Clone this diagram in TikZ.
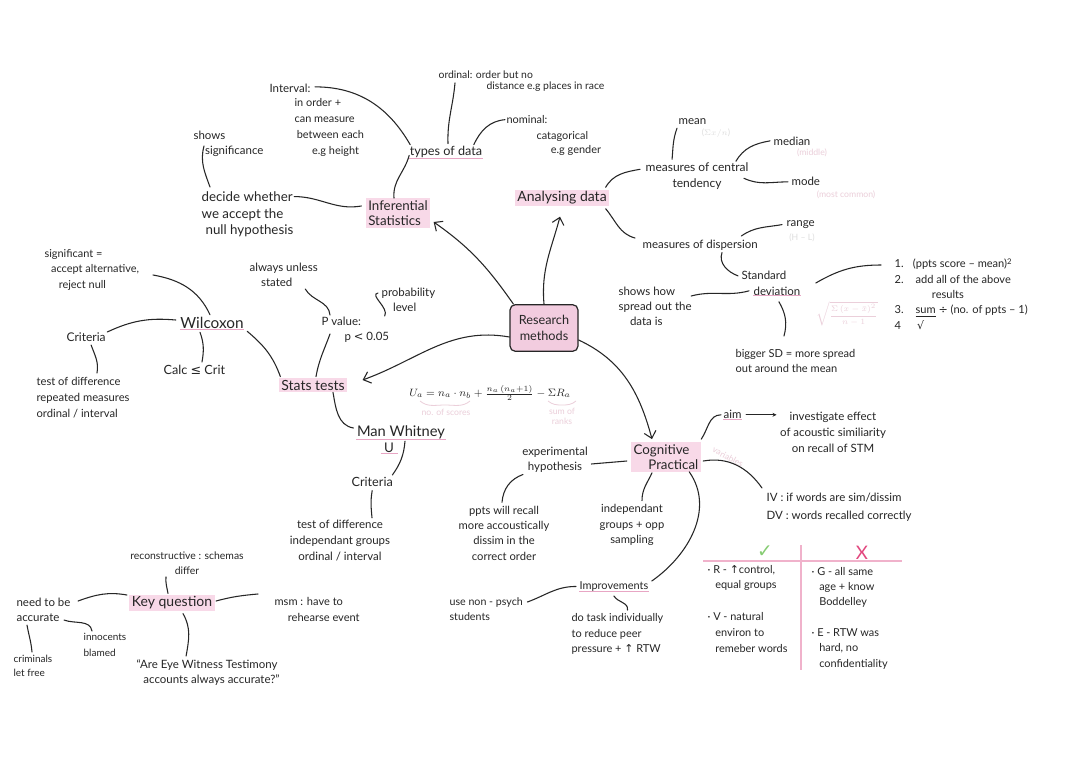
\documentclass[tikz,border=0pt]{standalone}
\usepackage{fontspec}
\setmainfont{Lato}
\newfontfamily\sym{DejaVu Sans}
\usetikzlibrary{arrows.meta,calc}
\definecolor{ink}{HTML}{262626}
\definecolor{hlpink}{HTML}{F8D9E8}
\definecolor{rmfill}{HTML}{F2CCDF}
\definecolor{ulpink}{HTML}{E8A6C4}
\definecolor{faintc}{HTML}{EBCFDA}
\definecolor{faintg}{HTML}{DEDEDE}
\definecolor{okgreen}{HTML}{86CC72}
\definecolor{nored}{HTML}{E2477E}
\definecolor{tblpink}{HTML}{F0B2CB}
\begin{document}
\begin{tikzpicture}[x=0.75pt,y=-0.75pt,
  tx/.style={font=\fontsize{8.6}{11.5}\selectfont, text=ink, inner sep=1pt, align=left, anchor=north west},
  txc/.style={tx, align=center, anchor=center},
  hl/.style={fill=hlpink, text=ink, inner xsep=2pt, inner ysep=1.5pt, align=left, font=\fontsize{10}{11.5}\selectfont},
  ln/.style={draw=ink, line width=0.8pt, line cap=round},
  arr/.style={ln, -{Straight Barb[length=5pt,width=9pt]}},
  ul/.style={draw=ulpink, line width=0.7pt},
  faint/.style={text=faintc, inner sep=0pt, font=\fontsize{6.5}{7.5}\selectfont, align=center},
  tbl/.style={draw=tblpink, line width=0.9pt}]
\fill[white] (0,0) rectangle (1080,763);
\path[use as bounding box] (0,0) rectangle (1080,763);

% centre
\node[draw=ink, line width=0.9pt, fill=rmfill, rounded corners=4pt, minimum width=51pt, minimum height=35pt, align=center, font=\fontsize{9.5}{12}\selectfont, text=ink] (rm) at (544,328) {Research\\methods};

% headings
\node[hl] (inf) at (398,213) {Inferential\\Statistics};
\node[hl, font=\fontsize{10.5}{12}\selectfont] (ana) at (562,198) {Analysing data};
\node[hl, font=\fontsize{10.5}{12}\selectfont] (stats) at (313,385) {Stats tests};
\node[hl] (cog) at (666,457) {Cognitive\\\hspace*{1.1em}Practical};
\node[hl, font=\fontsize{10.5}{12}\selectfont] (key) at (172,603) {Key question};

% inferential statistics branch
\node[tx, anchor=center, font=\fontsize{9.5}{11}\selectfont] (types) at (446,152) {types of data};
\node[tx] (intv) at (268,82) {Interval:};
\node[tx, font=\fontsize{8.2}{12}\selectfont] (intvb) at (293,97) {in order +\\can measure\\\hspace*{0.2em}between each\\\hspace*{1.6em}e.g height};
\node[tx, font=\fontsize{7.8}{9}\selectfont] (ord1) at (437,69) {ordinal: order but no};
\node[tx, font=\fontsize{7.8}{9}\selectfont] (ord2) at (485,80) {distance e.g places in race};
\node[tx, font=\fontsize{8.2}{10}\selectfont] (nom) at (505,114) {nominal:};
\node[tx, font=\fontsize{8.2}{10.5}\selectfont] (nomb) at (535,130) {catagorical\\\hspace*{1.3em}e.g gender};
\node[tx] (shows) at (192,129) {shows\\\hspace*{1em}significance};
\node[tx, font=\fontsize{10}{12.2}\selectfont] (dec1) at (200,190) {decide whether};
\node[tx, font=\fontsize{10}{12.2}\selectfont] (dec2) at (200,207) {we accept the\\\hspace*{0.3em}null hypothesis};

% analysing data branch
\node[txc, font=\fontsize{9}{11.5}\selectfont] (mct) at (697,176) {measures of central\\tendency};
\node[tx] (mean) at (677,117) {mean};
\node[tx] (median) at (772,135) {median};
\node[tx] (mode) at (790,175) {mode};
\node[faint, text=faintg] at (716,133) {($\Sigma x / n$)};
\node[faint] at (812,153) {(middle)};
\node[faint] at (846,195) {(most common)};
\node[tx] (mdisp) at (641,238) {measures of dispersion};
\node[tx] (range) at (785,219) {range};
\node[faint, text=faintg] at (802,238) {(H -- L)};
\node[tx] (sd1) at (740,269) {Standard};
\node[tx] (sd2) at (752,285) {deviation};
\node[tx] (spread) at (617,285) {shows how\\spread out the\\\hspace*{1em}data is};
\node[tx, font=\fontsize{8.3}{11.2}\selectfont] (bigger) at (734,348) {bigger SD = more spread\\out around the mean};
\node[faint, font=\fontsize{6.5}{7.5}\selectfont] at (847,314) {$\sqrt{\displaystyle\frac{\Sigma\,(x-\bar{x})^2}{n-1}}$};
\node[tx, font=\fontsize{8.3}{11.5}\selectfont] (steps) at (893,257) {1.\hspace{7pt}(ppts score -- mean)\textsuperscript{2}\\2.\hspace{9pt}add all of the above\\\hspace{28pt}results\\3.\hspace{9pt}\underline{sum} {\sym ÷} (no. of ppts -- 1)\\4\hspace{12pt}{\sym √}};

% stats tests branch
\node[tx] (alw) at (248,261) {always unless\\\hspace*{1em}stated};
\node[tx] (pval) at (320,315) {P value:\\\hspace*{2em}p {\sym<} 0.05};
\node[tx] (prob) at (380,286) {probability\\\hspace*{1em}level};
\node[tx, anchor=center, font=\fontsize{11.5}{13}\selectfont] (wil) at (212,323) {Wilcoxon};
\node[tx, font=\fontsize{8.2}{11.5}\selectfont] (sig) at (43,248) {significant =\\\hspace*{0.6em}accept alternative,\\\hspace*{1.3em}reject null};
\node[tx, font=\fontsize{9}{11}\selectfont] (crit1) at (65,331) {Criteria};
\node[tx, font=\fontsize{8.4}{12}\selectfont] (tod1) at (35,376) {test of difference\\repeated measures\\ordinal / interval};
\node[tx, font=\fontsize{9.5}{11}\selectfont] (calc) at (162,364) {Calc {\sym ≤} Crit};
\node[tx, anchor=center, font=\fontsize{11}{13}\selectfont] (man) at (401,432) {Man Whitney};
\node[tx, anchor=center, font=\fontsize{10}{12}\selectfont] (manu) at (389,448) {U};
\node[tx, anchor=center, font=\fontsize{8}{10}\selectfont] (formula) at (490,393) {$U_a = n_a \cdot n_b + \frac{n_a\,(n_a+1)}{2} - \Sigma R_a$};
\node[faint] at (446,412) {no. of scores};
\node[faint] at (562,416) {sum of\\ranks};
\node[tx, font=\fontsize{9.5}{11}\selectfont] (crit2) at (350,476) {Criteria};
\node[txc, font=\fontsize{8.6}{12}\selectfont] (tod2) at (340,541) {test of difference\\independant groups\\ordinal / interval};

% cognitive practical branch
\node[txc] (exph) at (555,460) {experimental\\hypothesis};
\node[txc, font=\fontsize{8.4}{11.5}\selectfont] (ppts) at (504,533) {ppts will recall\\more accoustically\\dissim in the\\correct order};
\node[txc, font=\fontsize{8.4}{11.8}\selectfont] (indep) at (632,525) {independant\\groups + opp\\sampling};
\node[tx] (aimn) at (722,409) {aim};
\node[txc, font=\fontsize{8.6}{12}\selectfont] (aimt) at (833,432) {investigate effect\\of acoustic similiarity\\on recall of STM};
\node[tx, font=\fontsize{8.6}{13.5}\selectfont] (ivdv) at (765,491) {IV : if words are sim/dissim\\DV : words recalled correctly};
\node[faint, rotate=-28] at (728,457) {variables};
\node[tx, font=\fontsize{8.2}{10}\selectfont] (improv) at (578,580) {Improvements};
\node[tx, font=\fontsize{8}{11.5}\selectfont] (nonpsych) at (448,596) {use non - psych\\students};
\node[tx, font=\fontsize{8.2}{11.6}\selectfont] (dotask) at (570,612) {do task individually\\to reduce peer\\pressure + {\sym↑} RTW};

% evaluation table
\draw[tbl] (703,561) -- (902,561);
\draw[tbl] (801,545) -- (801,670);
\node[text=okgreen, font=\sym\fontsize{14}{14}\selectfont, inner sep=0pt] (ok) at (765,552) {✓};
\node[text=nored, font=\fontsize{14}{14}\selectfont, inner sep=0pt] (no) at (862,553) {X};
\node[tx, font=\fontsize{8.2}{11.5}\selectfont] (tl1) at (706,564) {· R - {\sym↑}control,\\\hspace*{0.7em}equal groups};
\node[tx, font=\fontsize{8.2}{11.8}\selectfont] (tl2) at (706,611) {· V - natural\\\hspace*{0.7em}environ to\\\hspace*{0.7em}remeber words};
\node[tx, font=\fontsize{8.2}{11.3}\selectfont] (tr1) at (810,566) {· G - all same\\\hspace*{0.7em}age + know\\\hspace*{0.7em}Boddelley};
\node[tx, font=\fontsize{8.2}{11.5}\selectfont] (tr2) at (810,627) {· E - RTW was\\\hspace*{0.7em}hard, no\\\hspace*{0.7em}confidentiality};

% key question branch
\node[txc, font=\fontsize{7.8}{11}\selectfont] (recon) at (187,563) {reconstructive : schemas\\differ};
\node[tx, font=\fontsize{8.3}{11.8}\selectfont] (msm) at (273,596) {msm : have to\\\hspace*{1.2em}rehearse event};
\node[tx] (need) at (15,596) {need to be\\accurate};
\node[tx, font=\fontsize{7.5}{10.5}\selectfont] (crim) at (12,654) {criminals\\let free};
\node[tx, font=\fontsize{7.5}{11.5}\selectfont] (innoc) at (82,632) {innocents\\blamed};
\node[tx] (ewt) at (135,658) {“Are Eye Witness Testimony\\\hspace*{0.6em}accounts always accurate?”};

% underlines
\draw[ul] ($(types.south west)+(1,-1)$) -- ($(types.south east)+(-1,-1)$);
\draw[ul] ($(wil.south west)+(1,-1)$) -- ($(wil.south east)+(-1,-1)$);
\draw[ul] ($(man.south west)+(1,-1)$) -- ($(man.south east)+(-1,-1)$);
\draw[ul] ($(manu.south west)+(-2,-1)$) -- ($(manu.south east)+(2,-1)$);
\draw[ul] ($(sd2.south west)+(1,-1)$) -- ($(sd2.south east)+(-1,-1)$);
\draw[ul] ($(improv.south west)+(1,-1)$) -- ($(improv.south east)+(-1,-1)$);
\draw[ul] ($(aimn.south west)+(1,-1)$) -- ($(aimn.south east)+(-1,-1)$);
\draw[faintc, line width=0.6pt] (420,401) to[out=-40,in=180] (445,405) to[out=0,in=-140] (470,401);
\draw[faintc, line width=0.6pt] (548,401) to[out=-40,in=180] (562,405) to[out=0,in=-140] (576,401);

% main arrows
\draw[arr] ($(rm.north west)+(4,0)$) to[out=125,in=-35] ($(inf.east)+(3,9)$);
\draw[arr] (rm.north) to[out=95,in=-105] ($(ana.south)+(-2,10)$);
\draw[arr] ($(rm.west)+(0,9)$) to[out=170,in=20] ($(stats.east)+(15,-5)$);
\draw[arr] ($(rm.east)+(0,12)$) to[out=-25,in=105] ($(cog.north)+(-14,-3)$);

% inferential connectors
\draw[ln] ($(inf.north)+(-4,0)$) to[out=95,in=-105] ($(types.south west)+(1,-4)$);
\draw[ln] ($(types.north west)+(2,0)$) to[out=120,in=0] ($(intv.east)+(3,-1)$);
\draw[ln] ($(types.north)+(2,-1)$) to[out=92,in=-95] ($(ord1.south west)+(18,3)$);
\draw[ln] ($(types.north east)+(-10,0)$) to[out=65,in=185] (nom.west);
\draw[ln] (dec1.east) to[out=0,in=190] ($(inf.west)+(-4,-7)$);
\draw[ln] ($(shows.north west)+(12,17)$) to[out=-105,in=110] ($(dec1.north west)+(10,-3)$);

% analysing connectors
\draw[ln] ($(ana.north east)+(-4,-2)$) to[out=60,in=190] ($(mct.north west)+(-4,8)$);
\draw[ln] ($(mct.north west)+(28,-2)$) to[out=85,in=-110] ($(mean.south west)+(0,2)$);
\draw[ln] ($(mct.north east)+(-14,0)$) to[out=60,in=190] ($(median.west)+(-2,0)$);
\draw[ln] ($(mct.north east)+(-6,17)$) to[out=-25,in=180] ($(mode.west)+(-2,1)$);
\draw[ln] ($(ana.south east)+(-4,2)$) to[out=-50,in=165] ($(mdisp.north west)+(-6,0)$);
\draw[ln] ($(mdisp.north east)+(-18,-2)$) to[out=35,in=190] ($(range.west)+(-3,0)$);
\draw[ln] ($(mdisp.south west)+(81,1)$) to[out=-110,in=160] ($(sd1.west)+(-2,1)$);
\draw[ln] ($(sd2.west)+(-3,0)$) to[out=195,in=15] ($(spread.north east)+(-2,11)$);
\draw[ln] ($(sd2.south)+(2,5)$) to[out=-60,in=75] ($(bigger.north west)+(50,-12)$);
\draw[ln] ($(sd2.north east)+(14,-2)$) to[out=30,in=180] ($(steps.north west)+(-12,8)$);

% stats connectors
\draw[ln] ($(stats.north)+(3,-1)$) to[out=80,in=-110] ($(pval.south west)+(10,-10)$);
\draw[ln] ($(alw.south east)+(-14,1)$) to[out=-60,in=95] ($(pval.north west)+(10,0)$);
\draw[ln] ($(pval.north east)+(-6,1)$) to[out=60,in=190] ($(prob.north west)+(-2,7)$);
\draw[ln] ($(stats.north west)+(2,-1)$) to[out=110,in=-40] ($(wil.south east)+(2,1)$);
\draw[ln] ($(wil.north)+(-2,-1)$) to[out=115,in=-10] ($(sig.north west)+(110,27)$);
\draw[ln] ($(wil.west)+(-3,-3)$) to[out=175,in=25] ($(crit1.north east)+(0,1)$);
\draw[ln] ($(crit1.south)+(5,2)$) to[out=-70,in=80] ($(tod1.north west)+(62,-3)$);
\draw[ln] ($(wil.south)+(-12,2)$) to[out=-70,in=80] ($(calc.north west)+(40,-2)$);
\draw[ln] ($(stats.south)+(20,0)$) to[out=-80,in=170] ($(man.west)+(-2,-4)$);
\draw[ln] ($(man.south)+(4,1)$) to[out=-95,in=55] ($(crit2.north east)+(-2,-1)$);
\draw[ln] ($(crit2.south)+(0,2)$) to[out=-100,in=95] ($(tod2.north)+(32,-1)$);

% cognitive connectors
\draw[ln] ($(cog.west)+(-4,4)$) to[out=185,in=5] ($(exph.east)+(2,4)$);
\draw[ln] ($(exph.south)+(-32,0)$) to[out=200,in=85] ($(ppts.north)+(-2,-2)$);
\draw[ln] ($(cog.south)+(-14,1)$) to[out=-115,in=90] ($(indep.north)+(10,-2)$);
\draw[ln] ($(cog.north east)+(0,-3)$) to[out=55,in=180] ($(aimn.west)+(-1,0)$);
\draw[ln, -{Stealth[length=3pt,width=3pt]}] ($(aimn.east)+(3,0)$) -- ($(aimn.east -| aimt.west)+(-2,0)$);
\draw[ln] ($(cog.east)+(2,4)$) to[out=10,in=125] ($(ivdv.north west)+(-3,-3)$);
\draw[ln] ($(cog.south east)+(-12,0)$) to[out=-55,in=35] ($(improv.north east)+(2,1)$);
\draw[ln] ($(improv.west)+(-2,0)$) to[out=180,in=20] ($(nonpsych.north east)+(3,6)$);
\draw[ln] ($(improv.south)+(0,3)$) to[out=-60,in=80] ($(dotask.north)+(10,-2)$);

% key question connectors
\draw[ln] ($(key.north)+(-4,-1)$) to[out=100,in=-95] ($(recon.south)+(-21,1)$);
\draw[ln] ($(key.east)+(1,-2)$) to[out=15,in=185] ($(msm.north west)+(-15,-2)$);
\draw[ln] ($(key.west)+(-2,-8)$) to[out=170,in=20] ($(need.north east)+(6,5)$);
\draw[ln] ($(key.south)+(11,2)$) to[out=-60,in=80] ($(ewt.north)+(-22,-2)$);
\draw[ln] ($(need.south west)+(12,2)$) to[out=-80,in=95] ($(crim.north west)+(20,-2)$);
\draw[ln] ($(need.south east)+(-8,-3)$) to[out=-20,in=100] ($(innoc.north west)+(10,-1)$);
\end{tikzpicture}
\end{document}
